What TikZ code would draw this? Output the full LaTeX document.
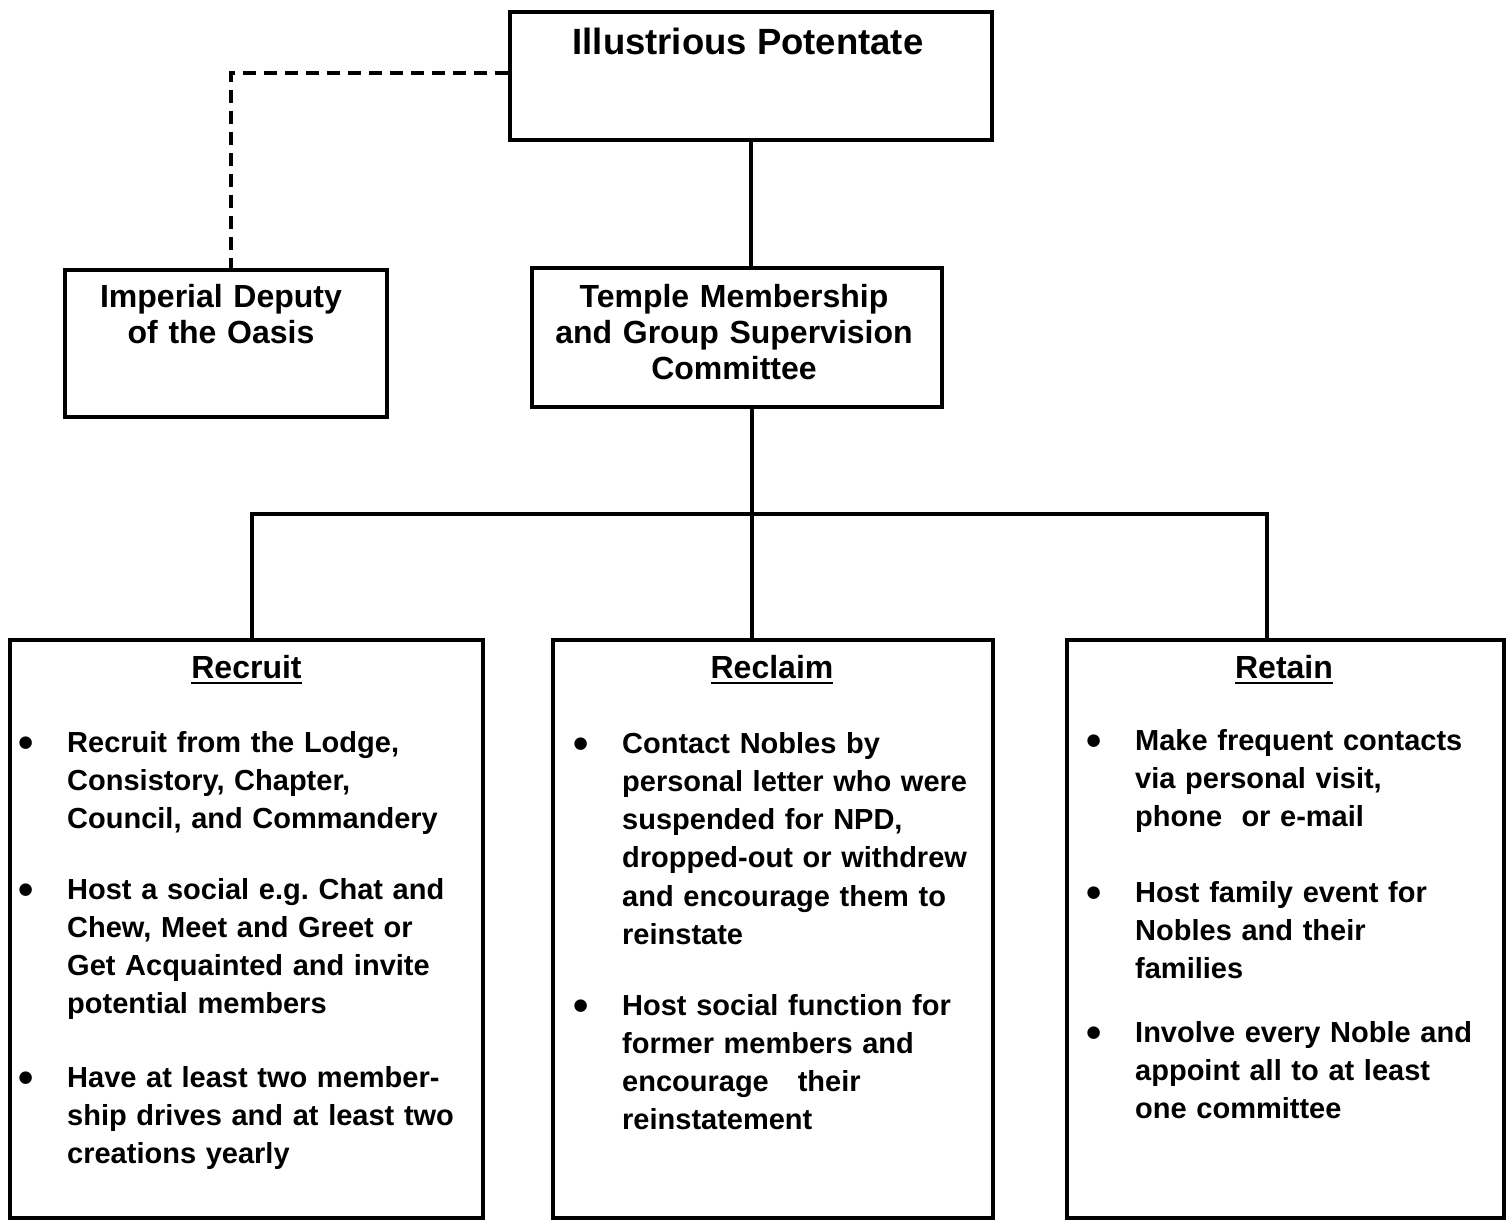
\documentclass[tikz,border=0pt]{standalone}
\usepackage{fontspec}
\setmainfont{Liberation Sans}
\frenchspacing
\newcommand{\vineta}[1]{\hangindent=47pt\hangafter=1\noindent\makebox[47pt][l]{\hspace{-2pt}\raisebox{-5.5pt}{\scalebox{1.5}{\textbullet}}}#1\par}
\newcommand{\subr}[1]{\setbox0\hbox{#1}\rlap{\rule[-6.2pt]{\wd0}{2.4pt}}\box0}

\begin{document}
\begin{tikzpicture}[x=1pt,y=-1pt,
  caja/.style={draw,line width=4.5pt,inner sep=0pt},
  linea/.style={line width=4.5pt},
  punteada/.style={line width=4pt,dash pattern=on 13pt off 8pt},
  titulo/.style={font=\fontsize{36.5}{40}\selectfont\bfseries,inner sep=0pt,anchor=base},
  cabeza/.style={font=\fontsize{32}{36}\selectfont\bfseries,text width=420pt,align=center,inner sep=0pt,anchor=base},
  punto/.style={font=\fontsize{29}{38.3}\selectfont\bfseries,text width=450pt,align=left,inner sep=0pt,anchor=base west}]
\useasboundingbox (0,0) rectangle (1510,1222);
% cajas de arriba
\node[caja,minimum width=482pt,minimum height=128pt] (ipbox) at (751,76) {};
\node[caja,minimum width=322pt,minimum height=147pt] (imbox) at (226,343.5) {};
\node[caja,minimum width=410pt,minimum height=139pt] (tmbox) at (737,337.5) {};
% cajas de abajo
\node[caja,minimum width=473pt,minimum height=578pt] (recbox) at (246.5,929) {};
\node[caja,minimum width=440pt,minimum height=578pt] (rclbox) at (773,929) {};
\node[caja,minimum width=437pt,minimum height=578pt] (retbox) at (1285.5,929) {};
% textos de las cajas
\node[titulo] (iptxt) at (748,55) {Illustrious Potentate};
\node[cabeza] (imtxt) at (221,308) {Imperial Deputy\\of the Oasis};
\node[cabeza] (tmtxt) at (734,308) {Temple Membership\\and Group Supervision\\Committee};
\node[cabeza] (rectxt) at (246.5,678) {\subr{Recruit}};
\node[cabeza] (rcltxt) at (772,678) {\subr{Reclaim}};
\node[cabeza] (rettxt) at (1284,678) {\subr{Retain}};
% puntos de Recruit
\node[punto] (rec1) at (20,752) {\vineta{Recruit from the Lodge,\newline Consistory, Chapter,\newline Council, and Commandery}};
\node[punto] (rec2) at (20,899) {\vineta{Host a social e.g. Chat and\newline Chew, Meet and Greet or\newline Get Acquainted and invite\newline potential members}};
\node[punto] (rec3) at (20,1087) {\vineta{Have at least two member-\newline ship drives and at least two\newline creations yearly}};
% puntos de Reclaim
\node[punto] (rcl1) at (575,753) {\vineta{Contact Nobles by\newline personal letter who were\newline suspended for NPD,\newline dropped-out or withdrew\newline and encourage them to\newline reinstate}};
\node[punto] (rcl2) at (575,1015) {\vineta{Host social function for\newline former members and\newline encourage\ \ \ their\newline reinstatement}};
% puntos de Retain
\node[punto] (ret1) at (1088,750) {\vineta{Make frequent contacts\newline via personal visit,\newline phone\ \ or e-mail}};
\node[punto] (ret2) at (1088,902) {\vineta{Host family event for\newline Nobles and their\newline families}};
\node[punto] (ret3) at (1088,1042) {\vineta{Involve every Noble and\newline appoint all to at least\newline one committee}};
% linea punteada al Imperial Deputy
\draw[punteada] ([yshift=3pt]ipbox.west) -| ([xshift=5pt]imbox.north);
% lineas del organigrama
\coordinate (barra) at (752,514);
\coordinate (rama1) at (252,514);
\coordinate (rama3) at (1267,514);
\draw[linea] (ipbox.south) -- (ipbox.south |- tmbox.north);
\draw[linea] (tmbox.south -| barra) -- (barra |- rclbox.north);
\draw[linea] (rama1 |- recbox.north) -- (rama1) -- (rama3) -- (rama3 |- retbox.north);
\end{tikzpicture}
\end{document}
